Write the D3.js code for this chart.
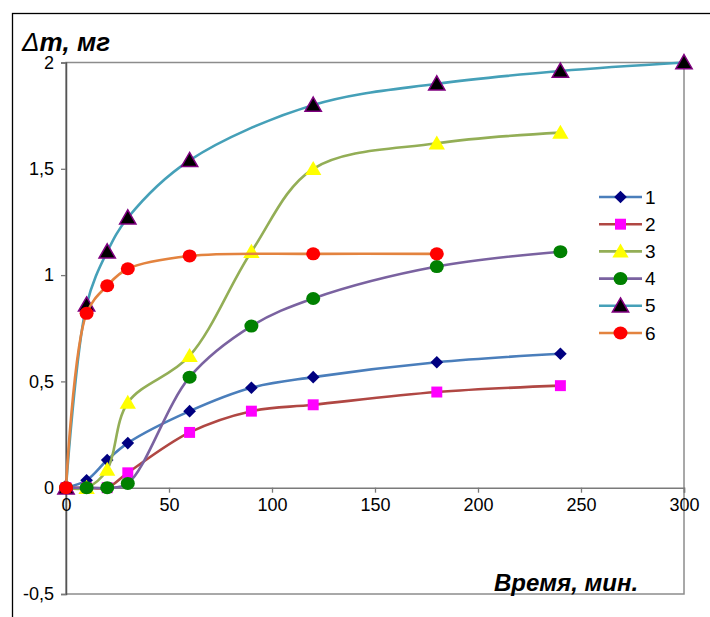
<!DOCTYPE html>
<html>
<head>
<meta charset="utf-8">
<script src="https://cdn.jsdelivr.net/npm/d3@7"></script>
<style>
  body { margin: 0; background: #fff; }
  svg { display: block; }
</style>
</head>
<body>
<div id="chart"></div>
<script>
// time points, minutes
var times = [0, 10, 20, 30, 60, 90, 120, 180, 240];
var times5 = [0, 10, 20, 30, 60, 120, 180, 240, 300];
var times6 = [0, 10, 20, 30, 60, 120, 180];

// mass change, mg
var s1 = [0, 0.035, 0.13, 0.21, 0.36, 0.47, 0.52, 0.59, 0.63];
var s2 = [0, 0, 0, 0.07, 0.26, 0.36, 0.39, 0.45, 0.48];
var s3 = [0, 0, 0.085, 0.40, 0.62, 1.11, 1.50, 1.62, 1.67];
var s4 = [0, 0, 0, 0.02, 0.52, 0.76, 0.89, 1.04, 1.11];
var s5 = [0, 0.86, 1.11, 1.27, 1.54, 1.80, 1.90, 1.96, 2.0];
var s6 = [0, 0.82, 0.95, 1.03, 1.09, 1.10, 1.10];

var seriesNames = ["1", "2", "3", "4", "5", "6"];
var xTicks = [0, 50, 100, 150, 200, 250, 300];
var yTicks = [-0.5, 0, 0.5, 1, 1.5, 2];

var series = [
    {name: "1", x: times,  y: s1, line: "#4A7EBB", fill: "#000080", stroke: "#000080", shape: "diamond"},
    {name: "2", x: times,  y: s2, line: "#B04743", fill: "#FF00FF", stroke: "#FF00FF", shape: "square"},
    {name: "3", x: times,  y: s3, line: "#93AE56", fill: "#FFFF00", stroke: "#FFFF00", shape: "triangle"},
    {name: "4", x: times,  y: s4, line: "#7A62A0", fill: "#008000", stroke: "#008000", shape: "circle"},
    {name: "5", x: times5, y: s5, line: "#45A0B8", fill: "#000000", stroke: "#800080", shape: "triangle"},
    {name: "6", x: times6, y: s6, line: "#E3833F", fill: "#FF0000", stroke: "#FF0000", shape: "circle"}
];

var W = 710, H = 617;
var plotLeft = 66, plotTop = 62.5, plotRight = 684, plotBottom = 594;

var svg = d3.select("#chart")
    .append("svg")
    .attr("width", W)
    .attr("height", H)
    .style("font-family", "Arial, 'Liberation Sans', sans-serif");

// outer frame (clipped by the page)
svg.append("rect")
    .attr("x", 12.5).attr("y", 13.5)
    .attr("width", 800).attr("height", 700)
    .attr("fill", "none")
    .attr("stroke", "#000")
    .attr("stroke-width", 1.3);

var xScale = d3.scaleLinear().domain([0, 300]).range([plotLeft, plotRight]);
var yScale = d3.scaleLinear().domain([-0.5, 2]).range([plotBottom, plotTop]);

// plot area border
svg.append("rect")
    .attr("x", plotLeft).attr("y", plotTop)
    .attr("width", plotRight - plotLeft).attr("height", plotBottom - plotTop)
    .attr("fill", "none")
    .attr("stroke", "#8c8c8c")
    .attr("stroke-width", 1.5);

var fmt = function(d) { return String(d).replace(".", ","); };

// y axis
var yAxis = svg.append("g")
    .attr("transform", "translate(" + plotLeft + ",0)")
    .call(d3.axisLeft(yScale).tickValues(yTicks).tickFormat(fmt).tickSize(5).tickPadding(7));

// x axis at zero
var xAxis = svg.append("g")
    .attr("transform", "translate(0," + yScale(0) + ")")
    .call(d3.axisBottom(xScale).tickValues(xTicks).tickSize(5).tickPadding(6));

[yAxis, xAxis].forEach(function(ax) {
    ax.select(".domain").attr("stroke", "#7a7a7a").attr("stroke-width", 1.5);
    ax.selectAll(".tick line").attr("stroke", "#7a7a7a").attr("stroke-width", 1.3);
    ax.selectAll(".tick text")
        .attr("font-size", "18px")
        .attr("font-family", "Arial, 'Liberation Sans', sans-serif")
        .attr("fill", "#000");
});
yAxis.select(".domain").attr("stroke", "#555");

// marker symbols
function symbolFor(shape) {
    if (shape === "square") return d3.symbol().type(d3.symbolSquare).size(120);
    if (shape === "triangle") return d3.symbol().type(d3.symbolTriangle).size(115);
    return null;
}

function drawMarker(g, s, cx, cy) {
    if (s.shape === "circle") {
        g.append("ellipse")
            .attr("cx", cx).attr("cy", cy)
            .attr("rx", 7).attr("ry", 6.5)
            .attr("fill", s.fill);
    } else if (s.shape === "diamond") {
        g.append("path")
            .attr("d", d3.symbol().type(d3.symbolSquare).size(80)())
            .attr("transform", "translate(" + cx + "," + cy + ") rotate(45)")
            .attr("fill", s.fill);
    } else {
        var dy = s.shape === "triangle" ? 1.5 : 0;
        g.append("path")
            .attr("d", symbolFor(s.shape)())
            .attr("transform", "translate(" + cx + "," + (cy + dy) + ")")
            .attr("fill", s.fill)
            .attr("stroke", s.stroke)
            .attr("stroke-width", s.stroke === s.fill ? 0 : 1.5);
    }
}

var line = d3.line()
    .x(function(d) { return xScale(d[0]); })
    .y(function(d) { return yScale(d[1]); })
    .curve(d3.curveCatmullRom.alpha(0.5));

series.forEach(function(s) {
    var pts = s.x.map(function(t, i) { return [t, s.y[i]]; });
    var g = svg.append("g");
    g.append("path")
        .datum(pts)
        .attr("d", line)
        .attr("fill", "none")
        .attr("stroke", s.line)
        .attr("stroke-width", 2.6);
    pts.forEach(function(p) {
        drawMarker(g, s, xScale(p[0]), yScale(p[1]));
    });
});

// legend
var legend = svg.append("g");
series.forEach(function(s, i) {
    var cy = 197 + i * 27.2;
    legend.append("line")
        .attr("x1", 599).attr("x2", 642)
        .attr("y1", cy).attr("y2", cy)
        .attr("stroke", s.line)
        .attr("stroke-width", 2.6);
    drawMarker(legend, s, 620.5, cy);
    legend.append("text")
        .attr("x", 645).attr("y", cy + 6.5)
        .attr("font-size", "19px")
        .text(seriesNames[i]);
});

// axis titles
var yt = svg.append("text")
    .attr("x", 22).attr("y", 51)
    .attr("font-size", "26px")
    .attr("font-style", "italic");
yt.append("tspan").text("\u0394");
yt.append("tspan").attr("font-weight", "bold").text("m, мг");

svg.append("text")
    .attr("x", 494).attr("y", 591)
    .attr("font-size", "24px")
    .attr("font-style", "italic")
    .attr("font-weight", "bold")
    .text("Время, мин.");
</script>
</body>
</html>
